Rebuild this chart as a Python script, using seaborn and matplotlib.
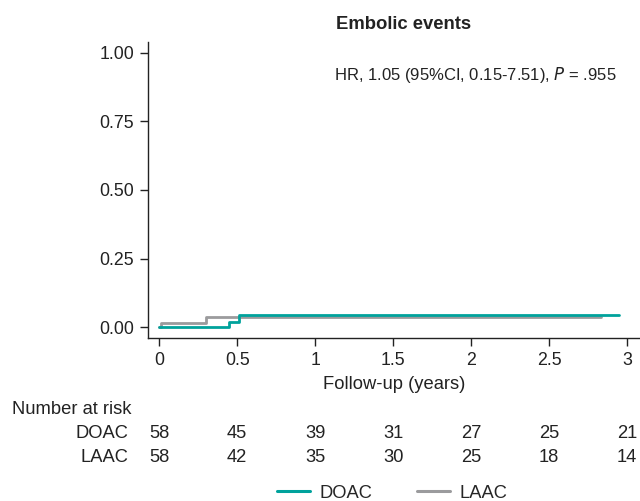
import pandas as pd
import matplotlib
matplotlib.use("Agg")
import matplotlib.pyplot as plt
import seaborn as sns
from matplotlib.lines import Line2D

# cumulative incidence steps
doac_time = [0.0, 0.45, 0.513, 2.95]
doac_cum = [0.0, 0.018, 0.043, 0.043]
laac_time = [0.0, 0.011, 0.30, 2.83]
laac_cum = [0.0, 0.016, 0.037, 0.037]

groups = ["DOAC", "LAAC"]
colors = {"DOAC": "#00a29c", "LAAC": "#9b9b9d"}

risk_times = [0, 0.5, 1, 1.5, 2, 2.5, 3]
risk_doac = [58, 45, 39, 31, 27, 25, 21]
risk_laac = [58, 42, 35, 30, 25, 18, 14]

xticks = [0, 0.5, 1, 1.5, 2, 2.5, 3]
xtick_labels = ["0", "0.5", "1", "1.5", "2", "2.5", "3"]
yticks = [0.0, 0.25, 0.5, 0.75, 1.0]

df = pd.concat([
    pd.DataFrame({"time": doac_time, "cum": doac_cum, "group": "DOAC"}),
    pd.DataFrame({"time": laac_time, "cum": laac_cum, "group": "LAAC"}),
])

sns.set_style("ticks")
plt.rcParams["font.family"] = ["Liberation Sans", "DejaVu Sans"]
TXT = "#222222"

W, H = 640, 501
fig = plt.figure(figsize=(W / 100, H / 100), dpi=100)
ax = fig.add_axes([148 / W, 1 - 338 / H, 492 / W, (338 - 41.7) / H])

# LAAC first so DOAC sits on top
for g in ["LAAC", "DOAC"]:
    sns.lineplot(data=df[df["group"] == g], x="time", y="cum", color=colors[g],
                 drawstyle="steps-post", estimator=None, sort=False,
                 linewidth=2.0, ax=ax, legend=False)

ax.set_xlim(-0.072, 3.083)
ax.set_ylim(-0.039, 1.04)
ax.set_xticks(xticks)
ax.set_xticklabels(xtick_labels)
ax.set_yticks(yticks)
ax.set_yticklabels([f"{v:.2f}" for v in yticks])
ax.tick_params(axis="both", length=6, width=1, color=TXT, labelsize=12.8,
               labelcolor=TXT, pad=4)
for s in ["left", "bottom"]:
    ax.spines[s].set_linewidth(1)
    ax.spines[s].set_color(TXT)
sns.despine(ax=ax)
ax.set_ylabel("")
ax.set_xlabel("Follow-up (years)", fontsize=13.2, color=TXT, va="top")
ax.xaxis.set_label_coords(0.5, -(376 - 338) / 296.3)
ax.set_title("Embolic events", fontsize=13.3, fontweight="bold", color=TXT,
             x=0.52, pad=9)

ax.text((617 - 148) / 492, (338 - 75) / 296.3,
        "HR, 1.05 (95%CI, 0.15-7.51), $\\mathit{P}$ = .955",
        transform=ax.transAxes, ha="right", va="center", fontsize=12,
        color=TXT)

# Number at risk table
fig.text(11.5 / W, 1 - 410 / H, "Number at risk", ha="left", va="center",
         fontsize=13.2, color=TXT)
for label, counts, ypix in [("DOAC", risk_doac, 434), ("LAAC", risk_laac, 458)]:
    yf = 1 - ypix / H
    fig.text(128 / W, yf, label, ha="right", va="center", fontsize=13.2,
             color=TXT)
    for t, n in zip(risk_times, counts):
        xd = ax.transData.transform((t, 0))[0]
        xf = fig.transFigure.inverted().transform((xd, 0))[0]
        fig.text(xf, yf, str(n), ha="center", va="center", fontsize=13.2,
                 color=TXT)

handles = [Line2D([], [], color=colors[g], linewidth=2.2) for g in groups]
fig.legend(handles, groups, loc="center", bbox_to_anchor=(392 / W, 1 - 493 / H),
           ncol=2, frameon=False, fontsize=13.2, handlelength=1.8,
           columnspacing=2.4, handletextpad=0.55, borderaxespad=0,
           borderpad=0)

fig.savefig("out.png", dpi=100)
